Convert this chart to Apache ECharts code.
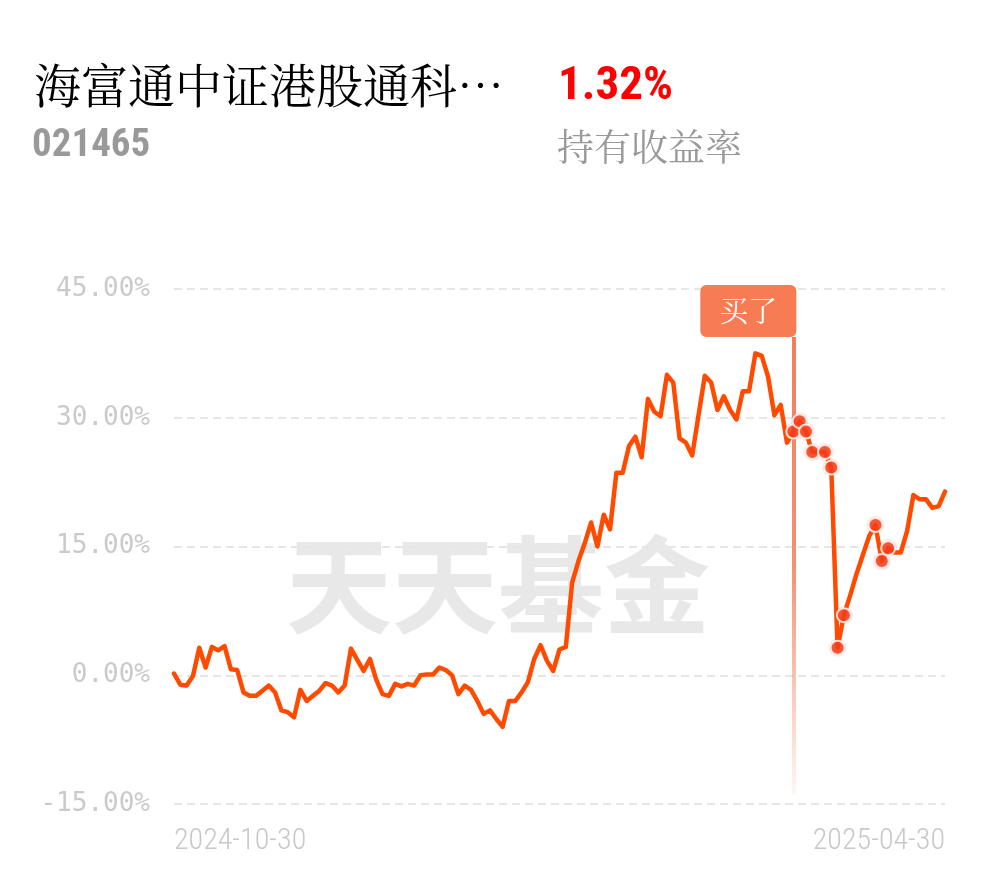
<!DOCTYPE html>
<html>
<head>
<meta charset="utf-8">
<script src="https://cdn.jsdelivr.net/npm/echarts@6/dist/echarts.min.js"></script>
<style>html,body{margin:0;padding:0;background:#fff;}#c{width:990px;height:878px;}</style>
</head>
<body>
<div id="c"></div>
<script>
// ---- data ----
const fundName = '海富通中证港股通科…';
const fundCode = '021465';
const holdReturn = '1.32%';
const holdReturnLabel = '持有收益率';
const watermark = '天天基金';
const buyLabel = '买了';
const startDate = '2024-10-30';
const endDate = '2025-04-30';
const holidays = ['2025-01-01','2025-01-28','2025-01-29','2025-01-30','2025-01-31','2025-02-03','2025-02-04','2025-04-04'];
const yTicks = [-15, 0, 15, 30, 45];
// cumulative return (%) per trading day
const returns = [
  0.2, -1.1, -1.2, -0.1, 3.2, 0.9, 3.3, 2.9, 3.4, 0.7,
  0.6, -2.0, -2.4, -2.4, -1.8, -1.2, -2.0, -4.1, -4.3, -4.9,
  -1.7, -3.0, -2.4, -1.8, -0.9, -1.2, -2.0, -1.2, 3.1, 1.8,
  0.5, 1.9, -0.5, -2.2, -2.4, -1.0, -1.3, -1.0, -1.2, 0.0,
  0.1, 0.1, 0.9, 0.6, 0.0, -2.2, -1.2, -1.7, -3.0, -4.5,
  -4.1, -5.1, -6.0, -3.0, -3.0, -2.0, -0.8, 1.9, 3.5, 1.7,
  0.5, 3.0, 3.3, 10.8, 13.3, 15.4, 17.8, 15.0, 18.7, 17.0,
  23.6, 23.6, 26.7, 27.8, 25.4, 32.2, 30.7, 30.2, 35.0, 34.1,
  27.6, 27.1, 25.6, 30.3, 34.9, 34.1, 30.9, 32.5, 30.9, 29.8,
  33.1, 33.1, 37.5, 37.2, 34.8, 30.3, 31.5, 27.1, 28.4, 29.6,
  28.4, 26.0, 26.0, 26.0, 24.2, 3.2, 7.0, 9.3, 11.8, 14.0,
  16.2, 17.5, 13.3, 14.8, 14.3, 14.3, 16.8, 21.0, 20.5, 20.5,
  19.5, 19.7, 21.4
];
const buyDate = '2025-03-26';
const dotDates = ['2025-03-26','2025-03-27','2025-03-28','2025-03-31','2025-04-02','2025-04-03','2025-04-07','2025-04-08','2025-04-15','2025-04-16','2025-04-17'];

// ---- trading-day categories ----
function pad(n){return n<10?'0'+n:''+n;}
const dates = [];
{
  const d = new Date(startDate + 'T00:00:00Z');
  const end = new Date(endDate + 'T00:00:00Z');
  while (d <= end) {
    const s = d.getUTCFullYear() + '-' + pad(d.getUTCMonth()+1) + '-' + pad(d.getUTCDate());
    const wd = d.getUTCDay();
    if (wd !== 0 && wd !== 6 && holidays.indexOf(s) < 0) dates.push(s);
    d.setUTCDate(d.getUTCDate()+1);
  }
}
const lineData = dates.map((d,i)=>[d, returns[i]]);
const dotData = dotDates.map(d=>[d, returns[dates.indexOf(d)]]);

const chart = echarts.init(document.getElementById('c'));
const cjk = '"Noto Sans CJK SC", sans-serif';
const cjkSerif = '"Noto Serif CJK SC", "Noto Sans CJK SC", serif';
const cond = '"Roboto Condensed", "Roboto", sans-serif';

chart.setOption({
  animation: false,
  backgroundColor: '#fff',
  graphic: [
    {type:'text', left:34, top:62, z:10, style:{text:fundName, fill:'#000', font:'47px ' + cjkSerif}},
    {type:'text', left:32, top:127, z:10, style:{text:fundCode, fill:'#999', font:'bold 39px ' + cond}},
    {type:'text', left:558, top:64, z:10, style:{text:holdReturn, fill:'#f00', font:'bold 47px ' + cond}},
    {type:'text', left:557, top:128, z:10, style:{text:holdReturnLabel, fill:'#999', font:'37px ' + cjkSerif}},
    {type:'text', left:286, top:532, z:0, style:{text:watermark, fill:'#e8e8e8', font:'bold 106px ' + cjk}}
  ],
  grid: {left:174, right:45, top:289, bottom:74, containLabel:false},
  xAxis: {
    type:'category', data:dates, boundaryGap:false,
    axisLine:{show:false}, axisTick:{show:false}, splitLine:{show:false},
    axisLabel:{
      interval:(i)=> i===0 || i===dates.length-1,
      alignMinLabel:'left', alignMaxLabel:'right',
      color:'#c8c8c8', fontSize:30, fontFamily:cond, fontWeight:300, margin:22
    }
  },
  yAxis: {
    type:'value', min:yTicks[0], max:yTicks[yTicks.length-1], interval:15,
    axisLine:{show:false}, axisTick:{show:false},
    splitLine:{show:true, lineStyle:{color:'#e6e6e6', width:2, type:[8,5]}},
    axisLabel:{formatter:(v)=>v.toFixed(2)+'%', color:'#cacaca', fontSize:26, fontFamily:'"DejaVu Sans Mono", monospace', margin:24}
  },
  series: [
    {
      type:'line', data:lineData, symbol:'none', smooth:false, z:3,
      lineStyle:{color:'#ff4a00', width:4.5, join:'round', cap:'round'},
      markLine:{
        silent:true, symbol:['none','none'], z:2,
        label:{show:false},
        lineStyle:{width:4, type:'solid', color:new echarts.graphic.LinearGradient(0,0,0,1,[
          {offset:0, color:'rgba(244,125,90,1)'},
          {offset:0.5, color:'rgba(244,125,90,0.85)'},
          {offset:1, color:'rgba(244,125,90,0.05)'}
        ])},
        data:[[{coord:[buyDate, 39.4]},{coord:[buyDate, -13.9]}]]
      },
      markPoint:{
        silent:true, z:5,
        data:[{coord:[buyDate, 45],
          symbol:'path://M6,0H90A6,6,0,0,1,96,6V46A6,6,0,0,1,90,52H6A6,6,0,0,1,0,46V6A6,6,0,0,1,6,0Z',
          symbolSize:[96,52], symbolOffset:[-45,22], symbolKeepAspect:false,
          itemStyle:{color:'#f77b53'},
          label:{show:true, position:'inside', formatter:buyLabel, color:'#fff', fontSize:29, fontFamily:cjkSerif}}]
      }
    },
    {
      type:'scatter', data:dotData, symbol:'circle', symbolSize:14, z:4,
      itemStyle:{color:'#f23a15', borderColor:'#fff', borderWidth:2, shadowBlur:2, shadowColor:'rgba(255,90,60,0.5)'}
    }
  ]
});
</script>
</body>
</html>
